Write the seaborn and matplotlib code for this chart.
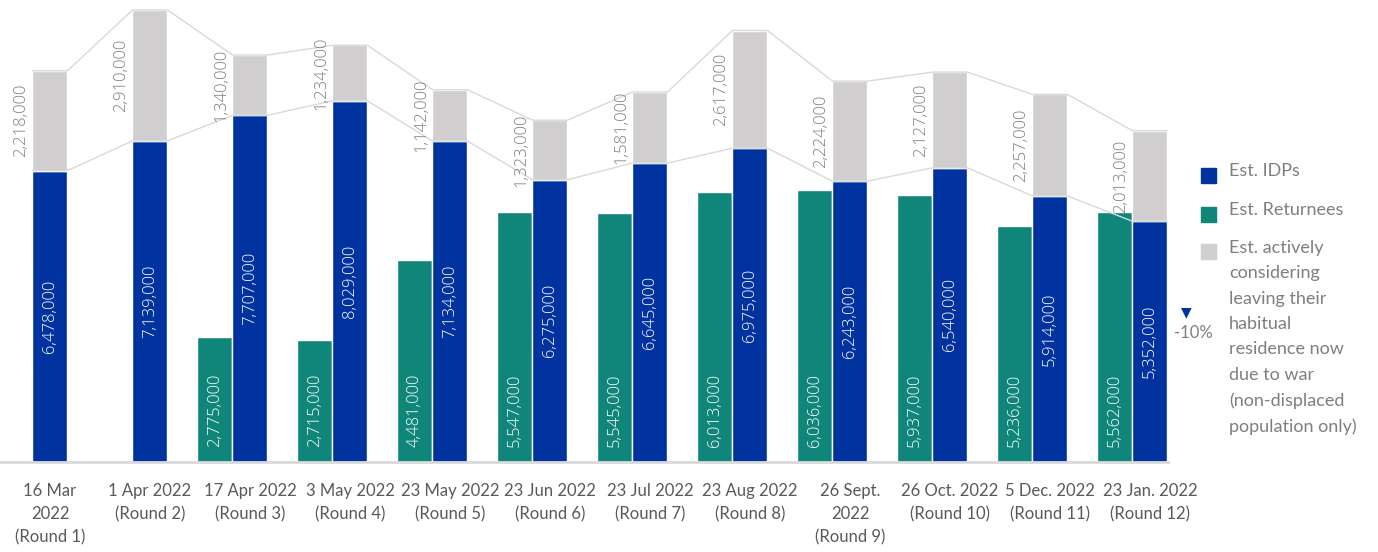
import numpy as np
import pandas as pd
import matplotlib
matplotlib.use("Agg")
import matplotlib.pyplot as plt
from matplotlib.patches import Rectangle
import seaborn as sns

# data
rounds = [
    "16 Mar\n2022\n(Round 1)", "1 Apr 2022\n(Round 2)", "17 Apr 2022\n(Round 3)",
    "3 May 2022\n(Round 4)", "23 May 2022\n(Round 5)", "23 Jun 2022\n(Round 6)",
    "23 Jul 2022\n(Round 7)", "23 Aug 2022\n(Round 8)", "26 Sept.\n2022\n(Round 9)",
    "26 Oct. 2022\n(Round 10)", "5 Dec. 2022\n(Round 11)", "23 Jan. 2022\n(Round 12)",
]
returnees = [0, 0, 2775000, 2715000, 4481000, 5547000,
             5545000, 6013000, 6036000, 5937000, 5236000, 5562000]
idps = [6478000, 7139000, 7707000, 8029000, 7134000, 6275000,
        6645000, 6975000, 6243000, 6540000, 5914000, 5352000]
considering = [2218000, 2910000, 1340000, 1234000, 1142000, 1323000,
               1581000, 2617000, 2224000, 2127000, 2257000, 2013000]

legend_labels = [
    "Est. IDPs",
    "Est. Returnees",
    "Est. actively\nconsidering\nleaving their\nhabitual\nresidence now\ndue to war\n(non-displaced\npopulation only)",
]
change_text = "-10%"

sns.set_style("white")
plt.rcParams["font.family"] = ["Lato", "DejaVu Sans"]

BLUE = "#0033A0"
TEAL = "#10857A"
GREY = "#D0CECE"
LINE = "#D9D9D9"
TXT = "#7F7F7F"

df = pd.DataFrame({
    "round": rounds * 2,
    "series": ["Est. Returnees"] * len(rounds) + ["Est. IDPs"] * len(rounds),
    "value": returnees + idps,
})

fig = plt.figure(figsize=(13.78, 5.52), dpi=100)
ax = fig.add_axes([0, 0.163, 0.8476, 0.837])

sns.barplot(data=df, x="round", y="value", hue="series",
            hue_order=["Est. Returnees", "Est. IDPs"],
            palette={"Est. Returnees": TEAL, "Est. IDPs": BLUE},
            width=0.7, dodge=True, saturation=1, errorbar=None,
            legend=False, ax=ax)

x = np.arange(len(rounds))
idps_a = np.array(idps)
totals = idps_a + np.array(considering)

# grey stack on top of IDP bars
ax.bar(x + 0.175, considering, width=0.35, bottom=idps, color=GREY)

# connector lines between bar tops
xs = np.column_stack([x, x + 0.35]).ravel()
sns.lineplot(x=xs, y=np.repeat(idps_a, 2), sort=False, estimator=None,
             color=LINE, lw=1, ax=ax, zorder=3)
sns.lineplot(x=xs, y=np.repeat(totals, 2), sort=False, estimator=None,
             color=LINE, lw=1, ax=ax, zorder=3)

# value labels
lab_font = ["Open Sans", "DejaVu Sans"]
for i in x:
    if returnees[i] > 0:
        ax.text(i - 0.175, 330000, f"{returnees[i]:,}", rotation=90,
                ha="center", va="bottom", color="white", fontsize=12,
                family=lab_font, fontweight="light", zorder=4)
    ax.text(i + 0.175, idps[i] / 2, f"{idps[i]:,}", rotation=90,
            ha="center", va="center", color="white", fontsize=12,
            family=lab_font, fontweight="light", zorder=4)
    ax.text(i - 0.11, idps[i] + considering[i] / 2, f"{considering[i]:,}",
            rotation=90, ha="center", va="center", color=TXT, fontsize=12,
            family=lab_font, fontweight="light", zorder=4)

ax.set_xlim(-0.325, 11.355)
ax.set_ylim(0, 10.27e6)
ax.set_xticks(x + 0.175)
ax.set_xticklabels(rounds, fontsize=12, color="#595959", linespacing=1.55)
ax.tick_params(axis="x", length=0, pad=15)
ax.set_yticks([])
ax.set_xlabel("")
ax.set_ylabel("")
for s in ["top", "right", "left"]:
    ax.spines[s].set_visible(False)
ax.spines["bottom"].set_color(LINE)
ax.spines["bottom"].set_linewidth(2)

# legend drawn by hand so the square sits on the first text line
W, H = 1378, 552
leg = [(BLUE, 175), (TEAL, 214), (GREY, 252)]
for (col, yc), label in zip(leg, legend_labels):
    fig.patches.append(Rectangle((1201 / W, 1 - (yc + 7.5) / H), 15 / W, 15 / H,
                                 transform=fig.transFigure, color=col))
    fig.text(1229 / W, 1 - (yc - 12) / H, label, ha="left", va="top",
             fontsize=13, color=TXT, linespacing=1.72)

# change marker
fig.text(1186 / W, 1 - 312 / H, "▼", ha="center", va="center", color=BLUE,
         fontsize=10, family=["DejaVu Sans"])
fig.text(1193 / W, 1 - 333 / H, change_text, ha="center", va="center",
         color=TXT, fontsize=12)

fig.savefig("out.png", dpi=100)
